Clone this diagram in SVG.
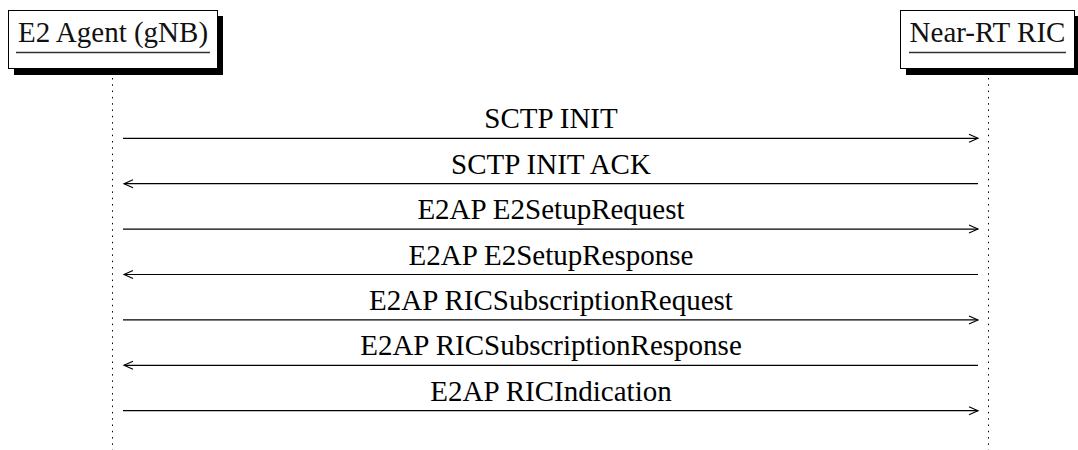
<svg xmlns="http://www.w3.org/2000/svg" width="1078" height="450" viewBox="0 0 1078 450">
<style>
.box{fill:#fff;stroke:#000;stroke-width:1}
.shadow{fill:#000}
.hdr{font-size:29px;fill:#111;text-anchor:middle}
.ul{stroke:#333;stroke-width:1.3}
.life{stroke:#000;stroke-width:1;stroke-dasharray:1.5 4.8}
.msg{stroke:#000;stroke-width:1.2;fill:none}
.lbl{font-size:29px;fill:#000;text-anchor:middle}
</style>
<defs>
<marker id="ah" markerWidth="12" markerHeight="10" refX="10" refY="5" orient="auto" markerUnits="userSpaceOnUse">
<path d="M1,1 L10,5 L1,9" fill="none" stroke="#000" stroke-width="1.1"/>
</marker>
</defs>
<g id="lifelines">
<line class="life" x1="112.5" y1="78" x2="112.5" y2="450"/>
<line class="life" x1="988.5" y1="78" x2="988.5" y2="450"/>
</g>
<g font-family="'Liberation Serif', 'Times New Roman', serif">
<g id="node-e2agent">
<rect class="shadow" x="14" y="16" width="209" height="59"/>
<rect class="box" x="8.5" y="10.5" width="209" height="58"/>
<text class="hdr" x="113" y="42">E2 Agent (gNB)</text>
<line class="ul" x1="16" y1="52.5" x2="210" y2="52.5"/>
</g>
<g id="node-ric">
<rect class="shadow" x="906" y="16" width="175" height="59"/>
<rect class="box" x="900.5" y="10.5" width="174" height="58"/>
<text class="hdr" x="987.5" y="42">Near-RT RIC</text>
<line class="ul" x1="909" y1="52.5" x2="1066" y2="52.5"/>
</g>
<g id="connectors">
<line class="msg" x1="123" y1="138.3" x2="978" y2="138.3" marker-end="url(#ah)"/>
<text class="lbl" x="551" y="128">SCTP INIT</text>
<line class="msg" x1="978" y1="183.7" x2="124" y2="183.7" marker-end="url(#ah)"/>
<text class="lbl" x="551" y="173.5">SCTP INIT ACK</text>
<line class="msg" x1="123" y1="229.1" x2="978" y2="229.1" marker-end="url(#ah)"/>
<text class="lbl" x="551" y="219">E2AP E2SetupRequest</text>
<line class="msg" x1="978" y1="274.5" x2="124" y2="274.5" marker-end="url(#ah)"/>
<text class="lbl" x="551" y="264.5">E2AP E2SetupResponse</text>
<line class="msg" x1="123" y1="319.9" x2="978" y2="319.9" marker-end="url(#ah)"/>
<text class="lbl" x="551" y="310">E2AP RICSubscriptionRequest</text>
<line class="msg" x1="978" y1="365.3" x2="124" y2="365.3" marker-end="url(#ah)"/>
<text class="lbl" x="551" y="355">E2AP RICSubscriptionResponse</text>
<line class="msg" x1="123" y1="410.7" x2="978" y2="410.7" marker-end="url(#ah)"/>
<text class="lbl" x="551" y="400.5">E2AP RICIndication</text>
</g>
</g>
</svg>
